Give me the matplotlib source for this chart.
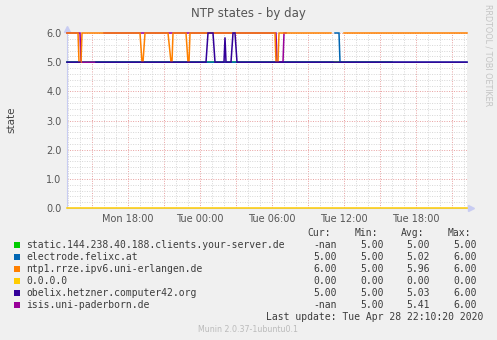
import matplotlib
matplotlib.use("Agg")
import matplotlib.pyplot as plt
import matplotlib.dates as mdates
from matplotlib.patches import Rectangle
from matplotlib.ticker import FuncFormatter, MultipleLocator
import numpy as np
import pandas as pd

W, H = 497, 340

# series breakpoints (time, value); None = no data
static_t = ["04-27 12:55", "04-28 16:00"]
static_v = [5, 5]

electrode_t = ["04-27 12:55", "04-28 11:05", "04-28 11:10", "04-28 11:15", "04-28 11:35",
               "04-28 11:40", "04-28 22:15"]
electrode_v = [5, 5, None, 6, 6, 5, 5]

ntp1_t = ["04-27 12:55", "04-27 13:50", "04-27 13:55", "04-27 14:05", "04-27 14:10",
          "04-27 19:00", "04-27 19:10", "04-27 19:15", "04-27 19:25",
          "04-27 21:20", "04-27 21:35", "04-27 21:40", "04-27 21:45",
          "04-27 22:50", "04-27 23:00", "04-27 23:05", "04-27 23:10",
          "04-28 06:15", "04-28 06:20", "04-28 06:30", "04-28 06:35",
          "04-28 10:55", "04-28 11:00", "04-28 12:00", "04-28 22:15"]
ntp1_v = [6, 6, 5, 5, 6,
          6, 5, 5, 6,
          6, 5, 5, 6,
          6, 5, 5, 6,
          6, 5, 5, 6,
          6, None, 6, 6]

zero_t = ["04-27 12:55", "04-28 22:15"]
zero_v = [0, 0]

obelix_t = ["04-27 12:55", "04-27 14:00", "04-27 14:05", "04-27 15:20",
            "04-28 00:30", "04-28 00:40", "04-28 01:05", "04-28 01:15",
            "04-28 02:00", "04-28 02:05", "04-28 02:10",
            "04-28 02:35", "04-28 02:45", "04-28 02:55", "04-28 03:05", "04-28 22:15"]
obelix_v = [5, 5, None, 5,
            5, 6, 6, 5,
            5, 5.85, 5,
            5, 6, 6, 5, 5]

isis_t = ["04-27 12:55", "04-27 14:00", "04-27 14:05", "04-27 15:15", "04-27 15:20",
          "04-27 16:00", "04-28 06:20", "04-28 06:25", "04-28 06:55", "04-28 07:00",
          "04-28 07:10", "04-28 07:15"]
isis_v = [6, 6, 5, 5, None, 6, 6, 5, 5, 6, 6, None]

names = ["static.144.238.40.188.clients.your-server.de", "electrode.felixc.at",
         "ntp1.rrze.ipv6.uni-erlangen.de", "0.0.0.0", "obelix.hetzner.computer42.org",
         "isis.uni-paderborn.de"]
colors = ["#00cc00", "#0066b3", "#ff8000", "#ffcc00", "#330099", "#990099"]
cur_vals = ["-nan", "5.00", "6.00", "0.00", "5.00", "-nan"]
min_vals = ["5.00", "5.00", "5.00", "0.00", "5.00", "5.00"]
avg_vals = ["5.00", "5.02", "5.96", "0.00", "5.03", "5.41"]
max_vals = ["5.00", "6.00", "6.00", "0.00", "6.00", "6.00"]

series = [(static_t, static_v), (electrode_t, electrode_v), (ntp1_t, ntp1_v),
          (zero_t, zero_v), (obelix_t, obelix_v), (isis_t, isis_v)]
draw_order = [0, 1, 5, 2, 3, 4]


def px(x, y):
    return x / W, 1 - y / H


def to_series(times, values):
    t = pd.to_datetime(["2020-" + s for s in times])
    v = np.array([np.nan if val is None else val for val in values], dtype=float)
    return t, v


fig = plt.figure(figsize=(W / 100, H / 100), dpi=100, facecolor="#f0f0f0")
ax = fig.add_axes([67 / W, 1 - 208 / H, 400 / W, 175 / H])
ax.set_facecolor("white")

for i in draw_order:
    t, v = to_series(*series[i])
    ax.plot(t, v, color=colors[i], linewidth=1.1, solid_joinstyle="miter", clip_on=False, zorder=3)

ax.set_xlim(pd.Timestamp("2020-04-27 12:55"), pd.Timestamp("2020-04-28 22:15"))
ax.set_ylim(0, 6)

ax.xaxis.set_major_locator(mdates.HourLocator(byhour=range(0, 24, 3)))
ax.xaxis.set_minor_locator(mdates.HourLocator())


def xfmt(val, pos):
    d = mdates.num2date(val)
    return d.strftime("%a %H:%M") if d.hour % 6 == 0 else ""


ax.xaxis.set_major_formatter(FuncFormatter(xfmt))
ax.yaxis.set_major_locator(MultipleLocator(1))
ax.yaxis.set_minor_locator(MultipleLocator(0.2))
ax.yaxis.set_major_formatter(FuncFormatter(lambda v, p: f"{v:.1f}"))

ax.grid(True, which="minor", color="#d6d6d6", linestyle=(0, (1, 1.5)), linewidth=0.7)
ax.grid(True, which="major", color="#e8a0a0", linestyle=(0, (1, 1.5)), linewidth=0.7)
ax.set_axisbelow(True)
ax.tick_params(which="both", length=0, labelsize=7, labelcolor="#555555")
ax.tick_params(axis="x", pad=4)
ax.tick_params(axis="y", pad=4)

for side in ["top", "right"]:
    ax.spines[side].set_visible(False)
for side in ["left", "bottom"]:
    ax.spines[side].set_color("#c8ccf2")
    ax.spines[side].set_linewidth(0.8)
ax.plot([0], [1.025], marker="^", color="#c8ccf2", markersize=4, transform=ax.transAxes, clip_on=False)
ax.plot([1.01], [0], marker=">", color="#c8ccf2", markersize=4, transform=ax.transAxes, clip_on=False)

fig.text(*px(248, 13), "NTP states - by day", ha="center", va="center", fontsize=8.5, color="#555555")
fig.text(*px(11, 120), "state", ha="center", va="center", rotation=90, fontsize=7.5, color="#444444")
fig.text(*px(488, 55), "RRDTOOL / TOBI OETIKER", ha="center", va="center", rotation=270,
         fontsize=5.8, color="#c4c4c4")

mono = dict(family="DejaVu Sans Mono", fontsize=7, color="#3c3c3c", va="center")
header_y = 233
for label, xr in zip(["Cur:", "Min:", "Avg:", "Max:"], [331, 378, 424, 471]):
    fig.text(*px(xr, header_y), label, ha="right", **mono)

for i, name in enumerate(names):
    y = 244.5 + i * 12.1
    fig.patches.append(Rectangle(px(14, y + 3), 6 / W, 6 / H, transform=fig.transFigure,
                                 facecolor=colors[i], edgecolor="none"))
    fig.text(*px(26, y), name, ha="left", **mono)
    for val, xr in zip([cur_vals[i], min_vals[i], avg_vals[i], max_vals[i]], [337, 384, 430, 477]):
        fig.text(*px(xr, y), val, ha="right", **mono)

fig.text(*px(483, 317), "Last update: Tue Apr 28 22:10:20 2020", ha="right", **mono)
fig.text(*px(248, 329), "Munin 2.0.37-1ubuntu0.1", ha="center", va="center", fontsize=5.7, color="#bbbbbb")

fig.savefig("out.png", dpi=100, facecolor=fig.get_facecolor())
